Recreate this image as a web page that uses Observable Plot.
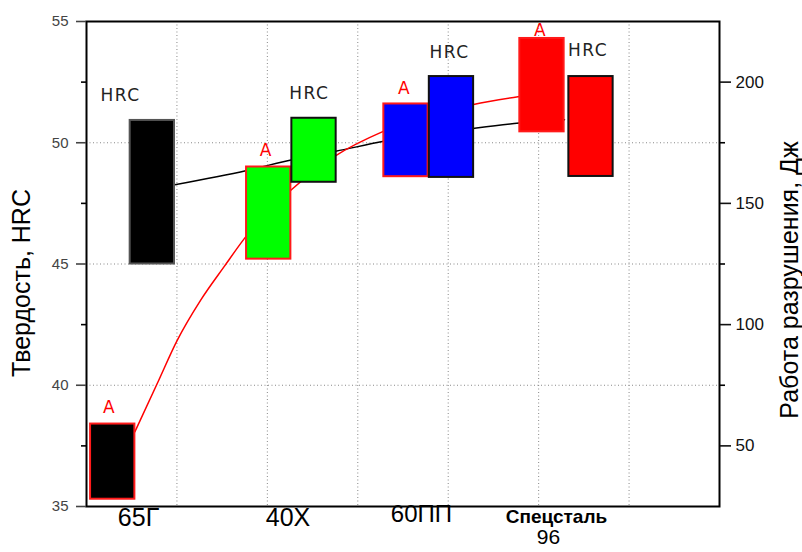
<!DOCTYPE html>
<html><head><meta charset="utf-8">
<script src="https://cdn.jsdelivr.net/npm/d3@7"></script>
<script src="https://cdn.jsdelivr.net/npm/@observablehq/plot@0.6"></script>
<style>body{margin:0;background:#fff}</style>
</head><body><div id="chart"></div>
<script>
// Categories (steel grades) and their colours
const steels = ["65Г", "40Х", "60ПП", "Спецсталь"];
const barColors = ["#000000", "#00ff00", "#0000ff", "#ff0000"];
const barWidth = 0.49;

// Work of fracture "A" (right axis, J): x position, low, high
const workX = [0.290, 2.015, 3.533, 5.037];
const workLow = [28, 127, 161, 179.5];
const workHigh = [59, 165, 191, 218];

// Hardness HRC (left axis): x position, low, high
const hrcX = [0.728, 2.516, 4.036, 5.579];
const hrcLow = [45.0, 48.37, 48.57, 48.61];
const hrcHigh = [50.92, 51.01, 52.73, 52.73];

// Trend curves
const hrcCurveX = [0.976, 1.773, 2.275, 2.757, 3.288, 4.280, 4.788, 5.286];
const hrcCurveY = [48.27, 48.86, 49.30, 49.65, 50.06, 50.59, 50.81, 50.95];
const workCurveX = [0.534, 0.781, 1.003, 1.261, 1.518, 1.773, 2.256, 2.757, 3.288, 4.280, 4.788];
const workCurveY = [55.7, 75.6, 93.5, 110, 123.7, 136.8, 155.3, 169.7, 179.8, 190.8, 194.1];

// Bar annotations
const hrcLabelX = [0.376, 2.463, 4.014, 5.546];
const hrcLabelY = [51.95, 52.03, 53.72, 53.80];
const workLabelX = [0.247, 1.979, 3.509, 5.013];
const workLabelY = [66, 171.8, 197.3, 221.3];

// Category labels under the axis
const catLabelX = [0.575, 2.228, 3.704, 5.197];
const catLabelLine2 = "96";
const catLabelLine2X = 5.109;

// Axis ticks
const leftTicks = [35, 40, 45, 50, 55];
const leftMinor = [37.5, 42.5, 47.5, 52.5];
const rightTicks = [50, 100, 150, 200];
const rightMinor = [75, 125, 175];
const gridXValues = [1, 2, 3, 4, 5, 6];
const gridYValues = [40, 45, 50];

// Right axis (25..225 J) mapped onto left axis (35..55 HRC)
const toH = w => 35 + (w - 25) / 10;
const toW = h => (h - 35) * 10 + 25;

const idx = d3.range(steels.length);
const hrcCurve = hrcCurveX.map((x, i) => ({x, y: hrcCurveY[i]}));
const workCurve = workCurveX.map((x, i) => ({x, y: toH(workCurveY[i])}));

const chart = Plot.plot({
  width: 802,
  height: 552,
  marginLeft: 86,
  marginRight: 83,
  marginTop: 21,
  marginBottom: 46,
  x: {domain: [0, 7], axis: null},
  y: {domain: [35, 55], axis: null},
  color: {type: "identity"},
  style: {fontFamily: "Arial, 'Liberation Sans', sans-serif", background: "#fff", overflow: "visible"},
  marks: [
    Plot.gridX(gridXValues, {stroke: "#888", strokeOpacity: 1, strokeDasharray: "1,2.5"}),
    Plot.gridY(gridYValues, {stroke: "#888", strokeOpacity: 1, strokeDasharray: "1,2.5"}),
    Plot.line(hrcCurve, {x: "x", y: "y", stroke: "#000", strokeWidth: 1.5, curve: "monotone-x"}),
    Plot.line(workCurve, {x: "x", y: "y", stroke: "#ff0000", strokeWidth: 1.5, curve: "monotone-x"}),
    Plot.rect(idx, {
      x1: i => workX[i] - barWidth / 2, x2: i => workX[i] + barWidth / 2,
      y1: i => toH(workLow[i]), y2: i => toH(workHigh[i]),
      fill: i => barColors[i], stroke: "#ff1a1a", strokeWidth: 2
    }),
    Plot.rect(idx, {
      x1: i => hrcX[i] - barWidth / 2, x2: i => hrcX[i] + barWidth / 2,
      y1: i => hrcLow[i], y2: i => hrcHigh[i],
      fill: i => barColors[i], stroke: i => i === 0 ? "#555" : "#111", strokeWidth: 2
    }),
    Plot.text(idx, {x: i => hrcLabelX[i], y: i => hrcLabelY[i], text: () => "HRC",
      fill: "#222", fontSize: 17, fontFamily: "'DejaVu Sans', sans-serif"}),
    Plot.text(idx, {x: i => workLabelX[i], y: i => toH(workLabelY[i]), text: () => "A",
      fill: "#ff0000", fontSize: 17, fontFamily: "'DejaVu Sans', sans-serif"}),
    Plot.frame({stroke: "#000", strokeWidth: 2}),
    // left axis
    Plot.axisY(leftTicks, {anchor: "left", tickSize: 10, tickPadding: 8, strokeWidth: 1.6,
      fontSize: 15, color: "#444", label: null}),
    Plot.axisY(leftMinor, {anchor: "left", tickSize: 5, strokeWidth: 1.6, tickFormat: () => "", label: null}),
    // right axis
    Plot.axisY(rightTicks.map(toH), {anchor: "right", tickSize: 11, tickPadding: 5, strokeWidth: 1.6,
      fontSize: 17, color: "#111", tickFormat: d => String(Math.round(toW(d))), label: null}),
    Plot.axisY(rightMinor.map(toH), {anchor: "right", tickSize: 5, strokeWidth: 1.6, tickFormat: () => "", label: null}),
    // axis titles
    Plot.text(["Твердость, HRC"], {frameAnchor: "left", textAnchor: "middle", rotate: -90, dx: -65, dy: 19,
      fontSize: 25, fill: "#000"}),
    Plot.text(["Работа разрушения, Дж"], {frameAnchor: "right", textAnchor: "middle", rotate: -90, dx: 70, dy: 16,
      fontSize: 25, fill: "#000"}),
    // category labels
    Plot.text([0, 1], {x: i => catLabelX[i], text: i => steels[i], frameAnchor: "bottom", dy: 19,
      fontSize: 25, fill: "#000"}),
    Plot.text([2], {x: i => catLabelX[i], text: i => steels[i], frameAnchor: "bottom", dy: 15,
      fontSize: 24, fill: "#000"}),
    Plot.text([3], {x: i => catLabelX[i], text: i => steels[i], frameAnchor: "bottom", dy: 16,
      fontSize: 19, fontWeight: "bold", fill: "#000"}),
    Plot.text([catLabelLine2], {x: () => catLabelLine2X, text: d => d, frameAnchor: "bottom", dy: 37,
      fontSize: 21, fill: "#000"})
  ]
});

d3.select(chart).selectAll("text").each(function() {
  if (this.textContent === "HRC") this.setAttribute("letter-spacing", "1.5px");
});
document.getElementById("chart").appendChild(chart);
</script>
</body></html>
